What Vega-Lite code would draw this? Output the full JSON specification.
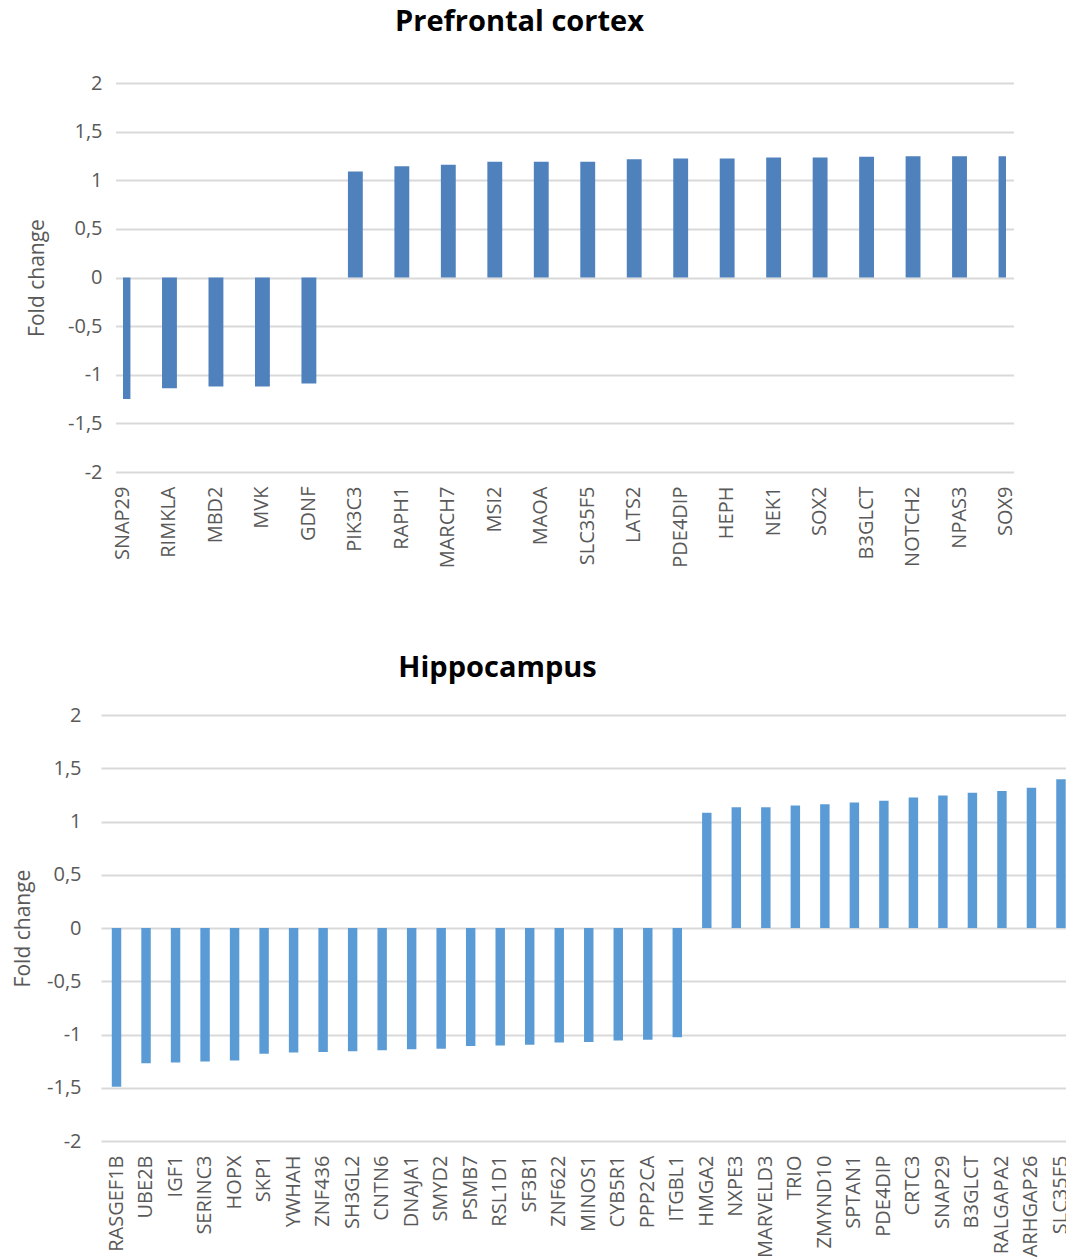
{
  "$schema": "https://vega.github.io/schema/vega-lite/v6.json",
  "padding": {"left": 12, "top": 8, "right": 0, "bottom": 0},
  "background": "white",
  "config": {
    "font": "Open Sans",
    "view": {"stroke": null},
    "axis": {"labelFont": "Open Sans", "titleFont": "Open Sans", "labelColor": "#595959", "titleColor": "#595959", "domain": false, "ticks": false},
    "title": {"font": "Open Sans", "fontSize": 29, "fontWeight": "bold", "color": "#000000", "anchor": "middle"}
  },
  "vconcat": [
    {
      "bounds": "flush",
      "spacing": 18,
      "hconcat": [
        {"width": 4, "height": 4, "data": {"values": []}, "mark": "point"},
        {
          "title": {"text": "Prefrontal cortex", "dx": -45, "offset": 36},
          "width": 883,
          "height": 389,
          "data": {"values": [
            {"gene": "SNAP29", "fc": -1.25},
            {"gene": "RIMKLA", "fc": -1.14},
            {"gene": "MBD2", "fc": -1.12},
            {"gene": "MVK", "fc": -1.12},
            {"gene": "GDNF", "fc": -1.09},
            {"gene": "PIK3C3", "fc": 1.09},
            {"gene": "RAPH1", "fc": 1.145},
            {"gene": "MARCH7", "fc": 1.16},
            {"gene": "MSI2", "fc": 1.19},
            {"gene": "MAOA", "fc": 1.19},
            {"gene": "SLC35F5", "fc": 1.19},
            {"gene": "LATS2", "fc": 1.217},
            {"gene": "PDE4DIP", "fc": 1.224},
            {"gene": "HEPH", "fc": 1.224},
            {"gene": "NEK1", "fc": 1.234},
            {"gene": "SOX2", "fc": 1.234},
            {"gene": "B3GLCT", "fc": 1.241},
            {"gene": "NOTCH2", "fc": 1.248},
            {"gene": "NPAS3", "fc": 1.248},
            {"gene": "SOX9", "fc": 1.248}
          ]},
          "mark": {"type": "bar", "color": "#4f81bd", "clip": true},
          "encoding": {
            "x": {"field": "gene", "type": "nominal", "sort": null,
              "scale": {"paddingInner": 0.68, "paddingOuter": 0, "range": [-7.44, 890.44]},
              "axis": {"title": null, "labelAngle": -90, "labelFontSize": 20, "labelPadding": 14, "labelAlign": "right", "labelBaseline": "middle"}},
            "y": {"field": "fc", "type": "quantitative",
              "scale": {"domain": [-2, 2], "nice": false},
              "axis": {"title": "Fold change", "titleFontSize": 21, "titleFontWeight": "normal", "titlePadding": 20,
                "labelFontSize": 20, "labelPadding": 21, "values": [-2, -1.5, -1, -0.5, 0, 0.5, 1, 1.5, 2],
                "labelExpr": "replace(toString(datum.value), '.', ',')",
                "grid": true, "gridColor": "#d9d9d9", "gridWidth": 2}}
          }
        }
      ]
    },
    {
      "title": {"text": "Hippocampus", "dx": -87, "offset": 22},
      "width": 967,
      "height": 426,
      "data": {"values": [
        {"gene": "RASGEF1B", "fc": -1.49},
        {"gene": "UBE2B", "fc": -1.27},
        {"gene": "IGF1", "fc": -1.263},
        {"gene": "SERINC3", "fc": -1.253},
        {"gene": "HOPX", "fc": -1.243},
        {"gene": "SKP1", "fc": -1.18},
        {"gene": "YWHAH", "fc": -1.168},
        {"gene": "ZNF436", "fc": -1.165},
        {"gene": "SH3GL2", "fc": -1.158},
        {"gene": "CNTN6", "fc": -1.148},
        {"gene": "DNAJA1", "fc": -1.138},
        {"gene": "SMYD2", "fc": -1.134},
        {"gene": "PSMB7", "fc": -1.107},
        {"gene": "RSL1D1", "fc": -1.104},
        {"gene": "SF3B1", "fc": -1.097},
        {"gene": "ZNF622", "fc": -1.076},
        {"gene": "MINOS1", "fc": -1.07},
        {"gene": "CYB5R1", "fc": -1.056},
        {"gene": "PPP2CA", "fc": -1.05},
        {"gene": "ITGBL1", "fc": -1.025},
        {"gene": "HMGA2", "fc": 1.083},
        {"gene": "NXPE3", "fc": 1.134},
        {"gene": "MARVELD3", "fc": 1.134},
        {"gene": "TRIO", "fc": 1.151},
        {"gene": "ZMYND10", "fc": 1.161},
        {"gene": "SPTAN1", "fc": 1.178},
        {"gene": "PDE4DIP", "fc": 1.195},
        {"gene": "CRTC3", "fc": 1.226},
        {"gene": "SNAP29", "fc": 1.243},
        {"gene": "B3GLCT", "fc": 1.27},
        {"gene": "RALGAPA2", "fc": 1.287},
        {"gene": "ARHGAP26", "fc": 1.318},
        {"gene": "SLC35F5", "fc": 1.396}
      ]},
      "mark": {"type": "bar", "color": "#5b9bd5", "clip": true},
      "encoding": {
        "x": {"field": "gene", "type": "nominal", "sort": null,
          "scale": {"paddingInner": 0.68, "paddingOuter": 0.222, "align": 0.824},
          "axis": {"title": null, "labelAngle": -90, "labelFontSize": 20, "labelPadding": 14, "labelAlign": "right", "labelBaseline": "middle"}},
        "y": {"field": "fc", "type": "quantitative",
          "scale": {"domain": [-2, 2], "nice": false},
          "axis": {"title": "Fold change", "titleFontSize": 21, "titleFontWeight": "normal", "titlePadding": 13,
            "labelFontSize": 20, "labelPadding": 20, "values": [-2, -1.5, -1, -0.5, 0, 0.5, 1, 1.5, 2],
            "labelExpr": "replace(toString(datum.value), '.', ',')",
            "grid": true, "gridColor": "#d9d9d9", "gridWidth": 2}}
      }
    }
  ],
  "spacing": 86
}
